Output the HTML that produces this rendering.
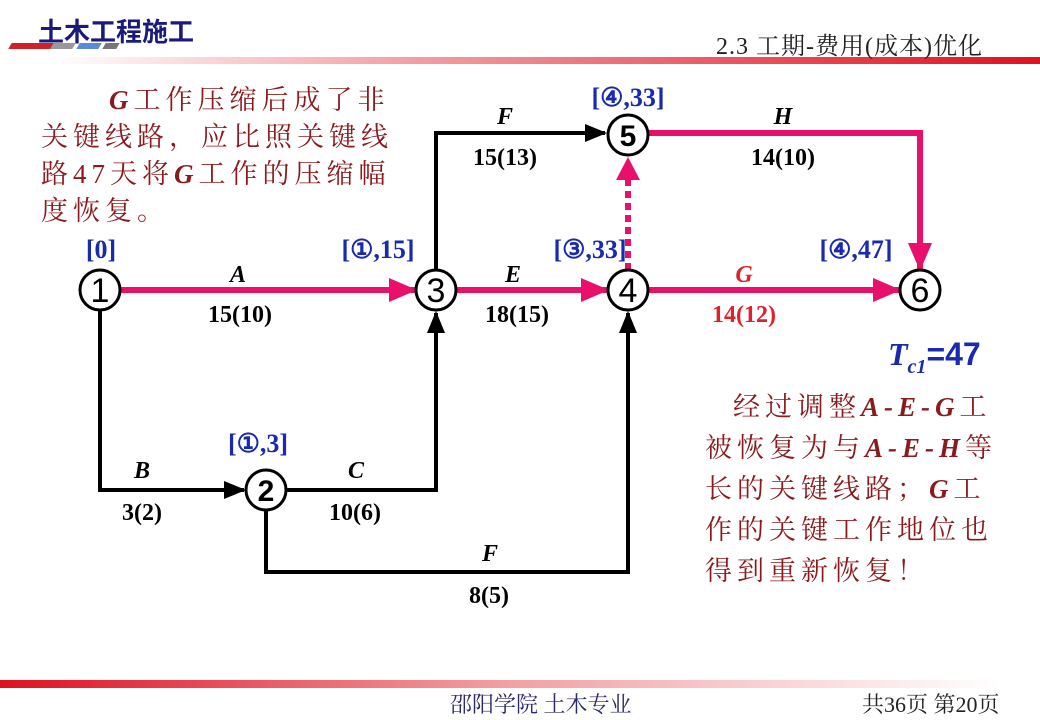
<!DOCTYPE html>
<html><head><meta charset="utf-8"><style>
body{margin:0;width:1040px;height:720px;background:#fff;overflow:hidden;position:relative;font-family:"Liberation Serif","Noto Serif CJK SC",serif}
.t{position:absolute;color:#8b1a1e;font-size:27px;letter-spacing:5px;line-height:37px;font-family:"Liberation Serif","Noto Serif CJK SC",serif}
.t b{font-style:italic;color:#8b1a1e}
</style></head><body>
<div style="position:absolute;left:0;top:57px;width:1040px;height:7px;background:linear-gradient(to right,rgba(230,30,40,0) 5%,rgba(230,60,70,0.5) 40%,#e01020 100%)"></div>
<div style="position:absolute;left:0;top:680px;width:1000px;height:8px;background:linear-gradient(to right,#e01020 0%,rgba(230,60,70,0.5) 50%,rgba(230,30,40,0) 100%)"></div>
<div style="position:absolute;left:38px;top:12px;font-size:26px;font-weight:bold;color:#1a1a7a;font-family:'Liberation Sans','Noto Sans CJK SC',sans-serif">土木工程施工</div>
<div style="position:absolute;left:10px;top:43px;width:42px;height:6px;background:#d0202a;transform:skewX(-30deg)"></div>
<div style="position:absolute;left:52px;top:43px;width:22px;height:6px;background:#999;transform:skewX(-30deg)"></div>
<div style="position:absolute;left:78px;top:43px;width:22px;height:6px;background:#5a8ad8;transform:skewX(-30deg)"></div>
<div style="position:absolute;left:104px;top:43px;width:14px;height:6px;background:#777;transform:skewX(-30deg)"></div>
<div style="position:absolute;left:716px;top:26px;font-size:24px;color:#222;letter-spacing:1px">2.3 工期-费用(成本)优化</div>
<div style="position:absolute;left:450px;top:688px;font-size:22px;color:#2a2a6a">邵阳学院 土木专业</div>
<div style="position:absolute;left:862px;top:688px;font-size:22px;color:#222">共36页 第20页</div>
<div class="t" style="left:41px;top:82px;width:360px"><span style="padding-left:68px"></span><b>G</b>工作压缩后成了非关键线路，应比照关键线路47天将<b>G</b>工作的压缩幅度恢复。</div>
<div class="t" style="left:705px;top:387px;width:300px;line-height:41px"><span style="padding-left:28px"></span>经过调整<b>A-E-G</b>工被恢复为与<b>A-E-H</b>等长的关键线路；<b>G</b>工作的关键工作地位也得到重新恢复！</div>
<svg width="1040" height="720" style="position:absolute;left:0;top:0" font-family="Liberation Serif,serif">
<defs>
<marker id="pk" markerWidth="28" markerHeight="24" refX="26" refY="12" orient="auto" markerUnits="userSpaceOnUse"><path d="M0,0L28,12L0,24z" fill="#e8106a"/></marker>
<marker id="bk" markerWidth="22" markerHeight="18" refX="20" refY="9" orient="auto" markerUnits="userSpaceOnUse"><path d="M0,0L22,9L0,18z" fill="#000"/></marker>
</defs>
<g stroke="#e8106a" stroke-width="6" fill="none">
<line x1="121" y1="290" x2="415" y2="290" marker-end="url(#pk)"/>
<line x1="457" y1="290" x2="607" y2="290" marker-end="url(#pk)"/>
<line x1="649" y1="290" x2="899" y2="290" marker-end="url(#pk)"/>
<polyline points="649,133 920,133 920,269" marker-end="url(#pk)"/>
<line x1="628" y1="270" x2="628" y2="175" stroke-dasharray="7,5"/>
</g>
<path d="M616,180L628,157L640,180z" fill="#e8106a"/>
<g stroke="#000" stroke-width="4" fill="none">
<polyline points="436,270 436,133 605,133" marker-end="url(#bk)"/>
<polyline points="100,311 100,490 244,490" marker-end="url(#bk)"/>
<polyline points="287,490 436,490 436,313" marker-end="url(#bk)"/>
<polyline points="266,511 266,572 628,572 628,313" marker-end="url(#bk)"/>
</g>
<g fill="#fff" stroke="#000" stroke-width="3">
<circle cx="100" cy="290" r="20"/><circle cx="436" cy="290" r="20"/><circle cx="628" cy="290" r="20"/>
<circle cx="920" cy="290" r="20"/><circle cx="628" cy="135" r="20"/><circle cx="266" cy="490" r="20"/>
</g>
<g font-family="Liberation Sans,sans-serif" font-size="34" text-anchor="middle">
<text x="100" y="302">1</text><text x="436" y="302">3</text><text x="628" y="302">4</text><text x="920" y="302">6</text>
<text x="628" y="146" font-weight="bold" font-size="30">5</text><text x="266" y="501" font-weight="bold" font-size="30">2</text>
</g>
<g font-size="26" font-weight="bold" fill="#1a2ab0" text-anchor="middle">
<text x="101" y="258">[0]</text><text x="378" y="258">[①,15]</text><text x="590" y="258">[③,33]</text>
<text x="628" y="106">[④,33]</text><text x="856" y="258">[④,47]</text><text x="258" y="452">[①,3]</text>
</g>
<g font-size="24" font-weight="bold" text-anchor="middle">
<g font-style="italic"><text x="238" y="282">A</text><text x="513" y="282">E</text><text x="505" y="124">F</text><text x="783" y="124">H</text>
<text x="142" y="478">B</text><text x="356" y="478">C</text><text x="490" y="561">F</text><text x="744" y="282" fill="#e0202a">G</text></g>
<text x="240" y="322">15(10)</text><text x="517" y="322">18(15)</text><text x="505" y="165">15(13)</text><text x="783" y="165">14(10)</text>
<text x="142" y="520">3(2)</text><text x="355" y="520">10(6)</text><text x="489" y="603">8(5)</text>
<text x="744" y="322" fill="#e0202a">14(12)</text>
</g>
<text x="888" y="365" font-size="32" font-weight="bold" fill="#1a2ab0" font-style="italic">T<tspan font-size="20" dy="8">c1</tspan><tspan dy="-8" font-style="normal" font-family="Liberation Sans,sans-serif">=47</tspan></text>
</svg>
</body></html>
